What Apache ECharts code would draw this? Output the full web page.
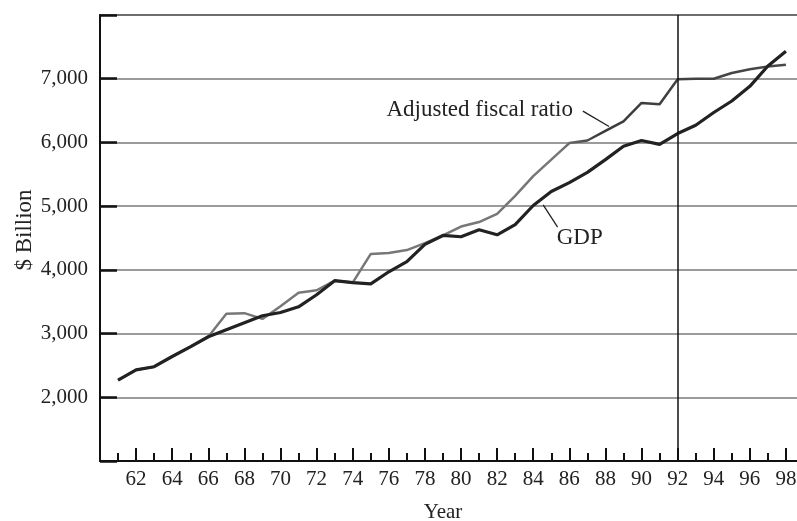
<!DOCTYPE html>
<html><head><meta charset="utf-8">
<script src="https://cdn.jsdelivr.net/npm/echarts@6/dist/echarts.min.js"></script>
<style>html,body{margin:0;padding:0;background:#fff}#c{width:797px;height:521px}</style>
</head><body><div id="c"></div>
<script>
const years = [61,62,63,64,65,66,67,68,69,70,71,72,73,74,75,76,77,78,79,80,81,82,83,84,85,86,87,88,89,90,91,92,93,94,95,96,97,98];
const gdp = [2270,2430,2480,2640,2790,2950,3060,3170,3280,3330,3420,3610,3830,3800,3780,3970,4130,4400,4540,4520,4630,4550,4710,5010,5230,5370,5530,5730,5940,6030,5970,6140,6270,6470,6650,6880,7200,7430];
const fiscal = [2270,2430,2480,2640,2790,2950,3310,3320,3230,3430,3640,3680,3830,3800,4250,4265,4310,4420,4540,4680,4750,4880,5160,5470,5730,5990,6030,6180,6330,6620,6600,6990,7000,7000,7090,7150,7190,7220];
const yTickLabels = [2000,3000,4000,5000,6000,7000];
const xTickLabels = [62,64,66,68,70,72,74,76,78,80,82,84,86,88,90,92,94,96,98];
const dividerYear = 92;
const fiscalNote = {text:'Adjusted fiscal ratio', at:[86.2, 6515], leader:[[86.75,6491],[88.2,6250]]};
const gdpNote = {text:'GDP', at:[85.3, 4500], leader:[[84.55,5020],[85.35,4670]]};

const font = 'Liberation Serif';
const chart = echarts.init(document.getElementById('c'), null, {renderer:'canvas'});
chart.setOption({
  animation:false,
  backgroundColor:'#fff',
  grid:{left:100, top:15, bottom:60, right:-7, outerBoundsMode:'none', containLabel:false,
        show:true, borderColor:'#111', borderWidth:1.5},
  xAxis:{
    type:'value', min:60, max:99, interval:2,
    name:'Year', nameLocation:'middle', nameGap:41, nameMoveOverlap:false,
    nameTextStyle:{fontFamily:font, fontSize:21, color:'#222', padding:[0,18,0,0]},
    axisLine:{lineStyle:{color:'#111', width:2}},
    axisTick:{inside:true, length:13, lineStyle:{color:'#111', width:2}},
    minorTick:{show:true, splitNumber:2, length:8, lineStyle:{color:'#111', width:2}},
    splitLine:{show:false},
    axisLabel:{fontFamily:font, fontSize:21, color:'#222', margin:8,
      formatter:v => xTickLabels.includes(v) ? String(v) : ''}
  },
  yAxis:{
    type:'value', min:1000, max:8000, interval:1000,
    name:'$ Billion', nameLocation:'middle', nameGap:64, nameRotate:90, nameMoveOverlap:false,
    nameTextStyle:{fontFamily:font, fontSize:23, color:'#222', padding:[0,0,0,16]},
    axisLine:{lineStyle:{color:'#111', width:2}},
    axisTick:{inside:true, length:17, lineStyle:{color:'#111', width:2.5}},
    splitLine:{show:true, lineStyle:{color:'#7a7a7a', width:1.5}},
    axisLabel:{fontFamily:font, fontSize:21, color:'#222', margin:12,
      formatter:v => yTickLabels.includes(v) ? v.toLocaleString('en-US') : ''}
  },
  series:[
    {type:'line', name:'Adjusted fiscal ratio', data:years.map((y,i)=>[y,fiscal[i]]),
     showSymbol:false, symbol:'none',
     lineStyle:{width:2.5, color:new echarts.graphic.LinearGradient(0,0,1,0,[
       {offset:0,color:'#777'},{offset:0.66,color:'#777'},{offset:0.72,color:'#3a3a3a'},{offset:1,color:'#4a4a4a'}])},
     markLine:{silent:true, symbol:'none', label:{show:false},
       lineStyle:{color:'#111', width:1.5, type:'solid'}, data:[{xAxis:dividerYear}]}},
    {type:'line', name:'GDP', data:years.map((y,i)=>[y,gdp[i]]),
     showSymbol:false, symbol:'none', lineStyle:{width:3.2, color:'#222'}}
  ]
});

function px(p){return chart.convertToPixel({gridIndex:0}, p);}
function note(n, align){
  const a = px(n.leader[0]), b = px(n.leader[1]), t = px(n.at);
  return [
    {type:'line', shape:{x1:a[0],y1:a[1],x2:b[0],y2:b[1]}, style:{stroke:'#222', lineWidth:1.3}, z:10},
    {type:'text', x:t[0], y:t[1], style:{text:n.text, fontFamily:font, fontSize:23, fill:'#222', align:align, verticalAlign:'middle'}, z:10}
  ];
}
chart.setOption({graphic:[...note(fiscalNote,'right'), ...note(gdpNote,'left')]});
</script>
</body></html>
